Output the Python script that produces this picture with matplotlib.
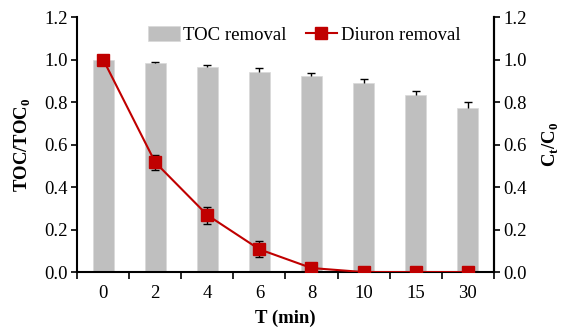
import matplotlib
matplotlib.use("Agg")
import matplotlib.pyplot as plt
import numpy as np

times = ["0", "2", "4", "6", "8", "10", "15", "30"]
toc = [1.0, 0.982, 0.963, 0.941, 0.922, 0.889, 0.831, 0.770]
toc_err = [0.0, 0.008, 0.012, 0.02, 0.016, 0.02, 0.022, 0.028]
diuron = [1.0, 0.516, 0.268, 0.107, 0.019, 0.0, 0.0, 0.0]
diuron_err = [0.0, 0.037, 0.04, 0.038, 0.0, 0.0, 0.0, 0.0]

plt.rcParams['font.family'] = ['Liberation Serif', 'DejaVu Serif']
plt.rcParams['mathtext.fontset'] = 'custom'
plt.rcParams['mathtext.rm'] = 'Liberation Serif'
plt.rcParams['mathtext.bf'] = 'Liberation Serif:bold'
FS = 13.5

fig = plt.figure(figsize=(5.63, 3.27), dpi=100)
ax = fig.add_axes([0.137, 0.168, 0.740, 0.780])
x = np.arange(len(times))

ax.bar(x, toc, width=0.4, color='#BFBFBF', edgecolor='#D9D9D9', linewidth=0.5,
       label='TOC removal', zorder=1)
toc_top = np.array(toc) + np.array(toc_err)
mask = np.array(toc_err) > 0
ax.vlines(x[mask], np.array(toc)[mask], toc_top[mask], color='black', linewidth=1, zorder=2)
ax.plot(x[mask], toc_top[mask], linestyle='none', marker='_', markersize=6,
        markeredgewidth=1, color='black', zorder=2)

ax2 = ax.twinx()
dmask = np.array(diuron_err) > 0
ax2.errorbar(x[dmask], np.array(diuron)[dmask], yerr=np.array(diuron_err)[dmask],
             fmt='none', ecolor='black', elinewidth=1, capsize=3, capthick=1, zorder=2)
ax2.plot(x, diuron, color='#C00000', marker='s', markersize=9, linewidth=1.5,
         label='Diuron removal', zorder=3)

for a in (ax, ax2):
    a.set_ylim(0, 1.2)
    a.set_yticks(np.arange(0, 1.21, 0.2))
    a.set_yticklabels([f"{v:.1f}" for v in np.arange(0, 1.21, 0.2)], fontsize=FS)
    a.spines['top'].set_visible(False)
    for s in a.spines.values():
        s.set_linewidth(1.5)
    a.tick_params(axis='y', direction='out', length=4, width=1.2, pad=3)

ax.set_xlim(-0.5, len(times) - 0.5)
ax.set_xticks(x)
ax.set_xticklabels(times, fontsize=FS)
ax.set_xticks(np.arange(-0.5, len(times), 1.0), minor=True)
ax.tick_params(axis='x', which='major', length=0, pad=9)
ax.tick_params(axis='x', which='minor', direction='out', length=5, width=1.2)
ax2.spines['left'].set_visible(False)
ax2.spines['bottom'].set_visible(False)

ax.set_xlabel('T (min)', fontsize=FS, fontweight='bold', labelpad=6)
ax.set_ylabel(r'TOC/TOC$_\mathbf{0}$', fontsize=FS, fontweight='bold', labelpad=8)
ax2.set_ylabel(r'C$_\mathbf{t}$/C$_\mathbf{0}$', fontsize=FS, fontweight='bold', labelpad=10)

h1, l1 = ax.get_legend_handles_labels()
h2, l2 = ax2.get_legend_handles_labels()
leg = ax2.legend(h1 + h2, l1 + l2, loc='upper center', ncol=2, frameon=False,
                 fontsize=FS, bbox_to_anchor=(0.545, 1.03), handlelength=1.7,
                 columnspacing=1.0, handletextpad=0.2, handleheight=0.85)

fig.savefig('out.png', dpi=100)
